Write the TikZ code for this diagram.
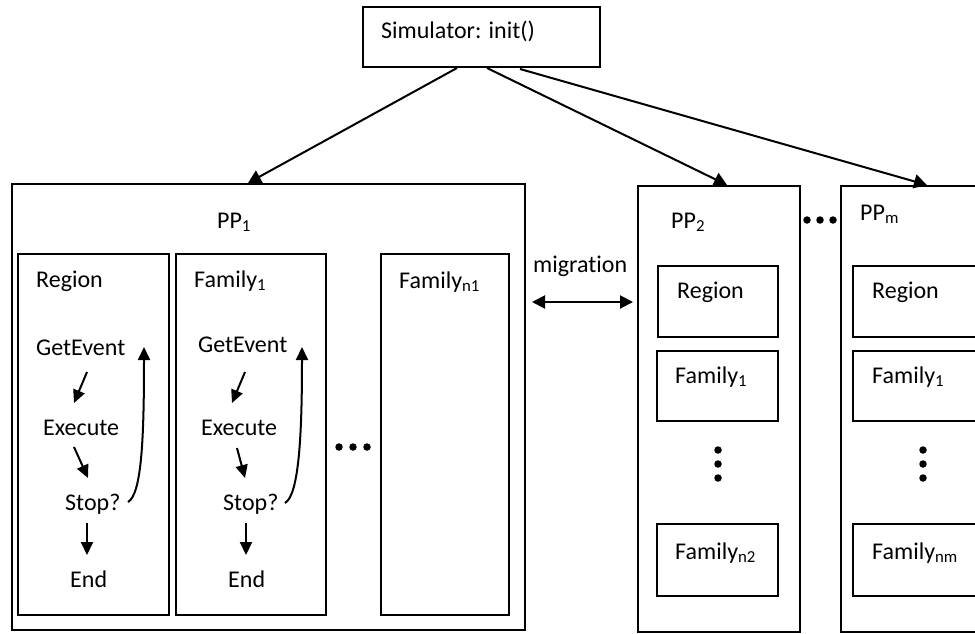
\documentclass[tikz,border=0pt]{standalone}
\usepackage{fontspec}
\setmainfont[Ligatures=NoCommon]{Carlito}
\usetikzlibrary{arrows.meta,calc}
\begin{document}
\begin{tikzpicture}[x=1pt,y=-1pt,
  box/.style={draw,line width=2pt,rectangle,inner sep=0pt,anchor=north west},
  txt/.style={inner sep=0pt,anchor=base west,font=\fontsize{24}{28}\selectfont},
  arr/.style={line width=2pt,-{Triangle[length=13pt,width=14pt]}},
  sarr/.style={line width=2pt,-{Triangle[length=13pt,width=12pt]}},
  dot/.style={circle,fill,inner sep=0pt,minimum size=7.5pt}]
\useasboundingbox (0,0) rectangle (975,633);
\clip (0,0) rectangle (975,633);
% top
\node[box,minimum width=237pt,minimum height=60pt] (sim) at (362,6) {};
\node[txt] (simt) at (381,38) {Simulator: init()};
% PP boxes
\node[box,minimum width=513pt,minimum height=446pt] (pp1) at (11,183) {};
\node[box,minimum width=162pt,minimum height=446pt] (pp2) at (637,185) {};
\node[box,minimum width=160pt,minimum height=446pt] (ppm) at (840,185) {};
\node[txt] (pp1t) at (217,228) {PP\textsubscript{1}};
\node[txt] (pp2t) at (671,228) {PP\textsubscript{2}};
\node[txt] (ppmt) at (860,220) {PP\textsubscript{m}};
% arrows from simulator
\coordinate (s1) at ($(sim.south west)+(95,0)$);
\coordinate (s2) at ($(sim.south west)+(125,0)$);
\coordinate (s3) at ($(sim.south west)+(158,1)$);
\draw[arr] (s1) -- ($(pp1.north west)+(237,0)$);
\draw[arr] (s2) -- ($(pp2.north west)+(90,0)$);
\draw[arr] (s3) -- ($(ppm.north west)+(87,0)$);
% PP1 inner
\node[box,minimum width=151pt,minimum height=361pt] (reg1) at (17,253) {};
\node[box,minimum width=150pt,minimum height=361pt] (fam1) at (175,253) {};
\node[box,minimum width=128pt,minimum height=361pt] (famn1) at (380,253) {};
\node[txt] (reg1t) at (36,287) {Region};
\node[txt] (fam1t) at (194,287) {Family\textsubscript{1}};
\node[txt] (famn1t) at (399,288) {Family\textsubscript{n1}};
% region column
\node[txt] (ge1) at (36,355) {GetEvent};
\node[txt] (ex1) at (43,435) {Execute};
\node[txt] (st1) at (65,510) {Stop?};
\node[txt] (en1) at (70,587) {End};
\draw[sarr] ($(ge1.base west)+(51,17)$) -- ($(ex1.base west)+(31,-32)$);
\draw[sarr] ($(ex1.base west)+(31,12)$) -- ($(st1.base west)+(23,-32)$);
\draw[sarr] ($(st1.base west)+(22,13)$) -- ($(en1.base west)+(17,-32)$);
\draw[sarr] ($(st1.base west)+(63,-8)$) .. controls ($(st1.base west)+(77,-16)$) and ($(ge1.base west)+(108,80)$) .. ($(ge1.base west)+(108,-8)$);
% family column
\node[txt] (ge2) at (198,352) {GetEvent};
\node[txt] (ex2) at (201,435) {Execute};
\node[txt] (st2) at (223,510) {Stop?};
\node[txt] (en2) at (228,587) {End};
\draw[sarr] ($(ge2.base west)+(47,20)$) -- ($(ex2.base west)+(31,-32)$);
\draw[sarr] ($(ex2.base west)+(36,13)$) -- ($(st2.base west)+(22,-32)$);
\draw[sarr] ($(st2.base west)+(23,13)$) -- ($(en2.base west)+(18,-32)$);
\draw[sarr] ($(st2.base west)+(62,-7)$) .. controls ($(st2.base west)+(76,-15)$) and ($(ge2.base west)+(104,83)$) .. ($(ge2.base west)+(104,-5)$);
% dots in PP1
\node[dot] (d1) at (339,447) {};
\node[dot] (d2) at (353,447) {};
\node[dot] (d3) at (367,447) {};
% migration
\node[txt] (mig) at (533,272) {migration};
\draw[line width=2pt,{Triangle[length=13pt,width=13pt]}-{Triangle[length=13pt,width=13pt]}] ($(pp1.north east)+(6,119)$) -- ($(pp2.north west)+(-4,117)$);
% PP2 inner
\node[box,minimum width=120pt,minimum height=71pt] (reg2) at (657,265) {};
\node[box,minimum width=121pt,minimum height=70pt] (fam21) at (656,350) {};
\node[box,minimum width=121pt,minimum height=72pt] (fam2n) at (656,523) {};
\node[txt] (reg2t) at (677,298) {Region};
\node[txt] (fam21t) at (675,383) {Family\textsubscript{1}};
\node[txt] (fam2nt) at (675,559) {Family\textsubscript{n2}};
\node[dot] (v1) at (718,450) {};
\node[dot] (v2) at (718,464) {};
\node[dot] (v3) at (718,478) {};
% between PP2 and PPm
\node[dot] (h1) at (807,220) {};
\node[dot] (h2) at (820,220) {};
\node[dot] (h3) at (833,220) {};
% PPm inner
\node[box,minimum width=130pt,minimum height=71pt] (regm) at (852,265) {};
\node[box,minimum width=130pt,minimum height=70pt] (famm1) at (852,350) {};
\node[box,minimum width=130pt,minimum height=72pt] (fammn) at (852,523) {};
\node[txt] (regmt) at (872,298) {Region};
\node[txt] (famm1t) at (872,383) {Family\textsubscript{1}};
\node[txt] (fammnt) at (872,559) {Family\textsubscript{nm}};
\node[dot] (w1) at (923,450) {};
\node[dot] (w2) at (923,464) {};
\node[dot] (w3) at (923,478) {};
\end{tikzpicture}
\end{document}
